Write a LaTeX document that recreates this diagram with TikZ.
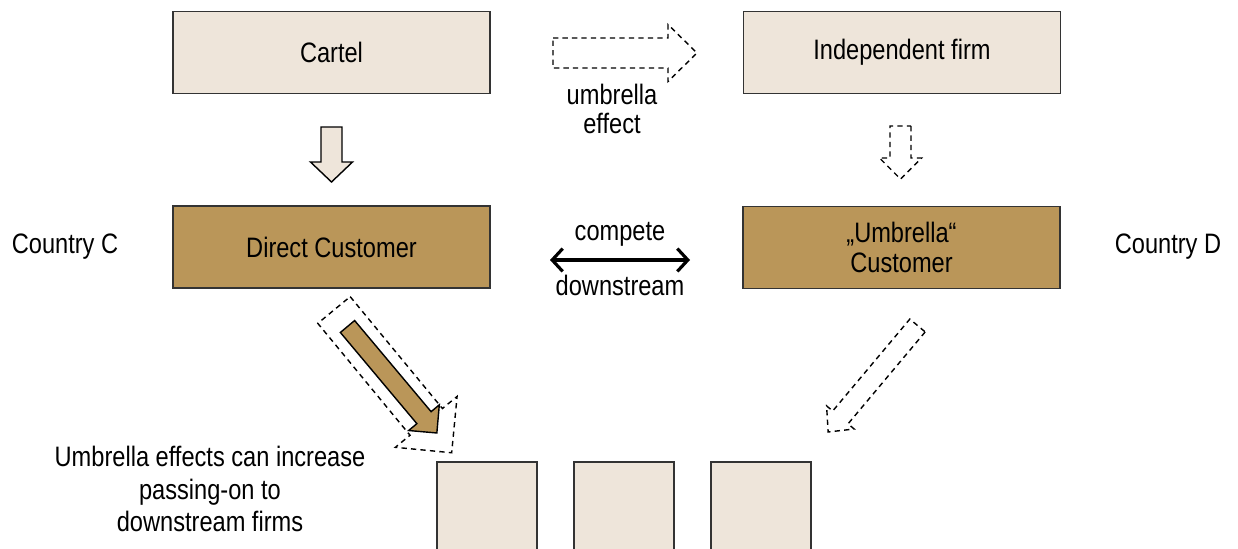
\documentclass[tikz,border=0pt]{standalone}
\usepackage{fontspec}
\setmainfont{Liberation Sans}[FakeStretch=0.84]
\usetikzlibrary{arrows.meta}
\definecolor{sand}{HTML}{EEE5DA}
\definecolor{ochre}{HTML}{BA9659}
% style, x, y, angle, length, half shaft, half head, head length
\newcommand{\blockarrow}[8]{\draw [#1, shift={(#2,#3)}, rotate=#4] (0,-#6) -- (#5-#8,-#6) -- (#5-#8,-#7) -- (#5,0) -- (#5-#8,#7) -- (#5-#8,#6) -- (0,#6) -- cycle;}

\begin{document}
\begin{tikzpicture}[x=0.02cm, y=-0.02cm, font=\fontsize{16}{17}\selectfont,
    lightbox/.style={draw=black!80, line width=0.8pt, fill=sand, minimum width=6.34cm, minimum height=1.64cm, inner sep=0pt, align=center},
    darkbox/.style={lightbox, fill=ochre},
    firmbox/.style={draw=black!80, line width=0.8pt, fill=sand, minimum width=2cm, minimum height=2cm, inner sep=0pt},
    dashedarrow/.style={draw=black, line width=0.8pt, dash pattern=on 3pt off 2.4pt},
    fullarrow/.style={draw=black, line width=0.8pt},
    barb/.style={{Straight Barb[length=6pt,width=13pt]}-{Straight Barb[length=6pt,width=13pt]}, line width=1.8pt}]
  \useasboundingbox (0,0) rectangle (1238,548);
  \node [lightbox] (cartel) at (331.5,52.5) {Cartel};
  \node [lightbox] (indep) at (902,52.5) {Independent firm};
  \node [darkbox] (direct) at (331.5,247) {Direct Customer};
  \node [darkbox] (umbr) at (901.5,247.5) {„Umbrella“\\Customer};
  \node (cc) at (65,247) {Country C};
  \node (cd) at (1168,247) {Country D};
  \foreach \n/\x in {f1/487, f2/624, f3/761} {\node [firmbox] (\n) at (\x,512) {};}
  \blockarrow{fullarrow, fill=sand}{331.5}{127}{-90}{55}{10.5}{21}{20}
  \blockarrow{dashedarrow}{900.5}{126}{-90}{53}{10.5}{21}{21}
  \blockarrow{dashedarrow}{553}{53}{0}{144}{15}{28.5}{29}
  \blockarrow{dashedarrow}{334}{310}{-50.5}{185}{21}{40}{40}
  \blockarrow{fullarrow, fill=ochre}{347.5}{326.5}{-50}{139}{9.3}{20}{20}
  \blockarrow{dashedarrow}{917.5}{325.5}{-130}{139}{10}{18}{19}
  \node [align=center] (umbtxt) at (612,109) {umbrella\\effect};
  \node (comp) at (620,234) {compete};
  \node (down) at (620,285) {downstream};
  \coordinate (cl) at (550,260);
  \coordinate (cr) at (690,260);
  \draw [barb] (cl) -- (cr);
  \node [align=center, font=\fontsize{16}{18.5}\selectfont] (note) at (210,489) {Umbrella effects can increase\\passing-on to\\downstream firms};
\end{tikzpicture}
\end{document}
